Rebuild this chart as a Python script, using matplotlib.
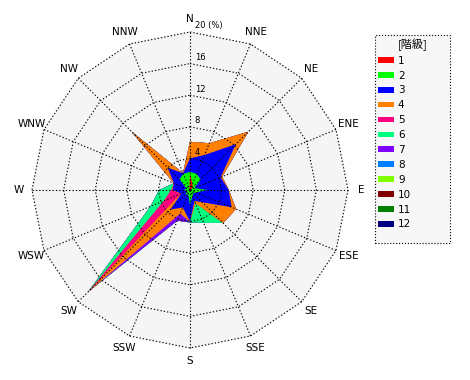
import numpy as np
import matplotlib
matplotlib.use('Agg')
import matplotlib.pyplot as plt
from matplotlib.patches import Patch, Rectangle

plt.rcParams['font.family'] = ['DejaVu Sans', 'Noto Sans CJK JP']

# 16方位
directions = ['N', 'NNE', 'NE', 'ENE', 'E', 'ESE', 'SE', 'SSE',
              'S', 'SSW', 'SW', 'WSW', 'W', 'WNW', 'NW', 'NNW']

# 階級ごとの出現率 (%)
class_labels = ['1', '2', '3', '4', '5', '6', '7', '8', '9', '10', '11', '12']
c1 = [2.1, 0.8, 0.5, 0.1, 0.2, 0.1, 0.1, 0.1, 0.2, 0.1, 0.3, 0.1, 0.2, 0.1, 0.2, 0.2]
c2 = [0.2, 1.4, 1.4, 0.5, 2.0, 0.7, 0.5, 0.7, 1.7, 0.5, 0.5, 0.3, 0.6, 0.4, 1.7, 2.0]
c3 = [1.7, 2.6, 6.3, 3.6, 2.7, 4.9, 1.6, 0.7, 2.1, 1.8, 2.7, 0.8, 1.4, 1.7, 2.1, 0.1]
c4 = [2.1, 1.6, 2.2, 0.2, 0.0, 0.6, 3.7, 0.3, 0.0, 0.8, 14.7, 0.1, 0.1, 0.0, 6.4, 0.0]
c5 = [0, 0, 0, 0, 0, 0, 0, 0, 0, 0, 0, 2.3, 0.1, 0, 0, 0]
c6 = [0, 0, 0, 0, 0, 0, 0, 2.7, 0.1, 0, 0, 1.8, 1.5, 0, 0, 0]
c7 = [0, 0, 0, 0, 0, 0, 0, 0, 0, 1.0, 0, 0, 0, 0, 0, 0]
c8 = [0] * 16
c9 = [0] * 16
c10 = [0] * 16
c11 = [0] * 16
c12 = [0] * 16

colors = ['#ff0000', '#00ff00', '#0000ff', '#ff8000', '#ff0080', '#00ff80',
          '#8000ff', '#0080ff', '#80ff00', '#800000', '#008000', '#000080']

rings = [4, 8, 12, 16, 20]
rmax = 20

data = np.array([c1, c2, c3, c4, c5, c6, c7, c8, c9, c10, c11, c12])
cum = np.cumsum(data, axis=0)

theta = np.deg2rad(np.arange(16) * 22.5)
sx, sy = np.sin(theta), np.cos(theta)

def closed(a):
    return np.append(a, a[0])

W, H = 470, 380
fig = plt.figure(figsize=(W / 100, H / 100), dpi=100)
ax = fig.add_axes([0, 0, 1, 1])
scale = 7.9  # px per %
ax.set_xlim(-190 / scale, (W - 190) / scale)
ax.set_ylim(-(H - 190) / scale, 190 / scale)
ax.axis('off')

# 背景
ax.fill(closed(rmax * sx), closed(rmax * sy), color='#f5f5f5', zorder=0)

# 積み上げ (外側から)
for k in range(11, -1, -1):
    r = cum[k]
    ax.fill(closed(r * sx), closed(r * sy), color=colors[k], lw=0, zorder=1)

# グリッド
dot = (0, (1.2, 1.8))
for rv in rings:
    ax.plot(closed(rv * sx), closed(rv * sy), color='black', lw=0.8,
            linestyle=dot, zorder=3)
for i in range(16):
    ax.plot([0, rmax * sx[i]], [0, rmax * sy[i]], color='black', lw=0.8,
            linestyle=dot, zorder=3)

# 目盛ラベル
for rv in rings:
    txt = '20 (%)' if rv == rmax else str(rv)
    ax.text(0.6, rv + 0.2, txt, fontsize=6, ha='left', va='bottom', zorder=4)

# 方位ラベル
lab_r = 21.7
for i, d in enumerate(directions):
    ax.text(lab_r * sx[i], lab_r * sy[i], d, fontsize=7.5,
            ha='center', va='center')

# 凡例の枠
box = Rectangle((375 / W, 1 - 243 / H), 75 / W, 208 / H,
                transform=fig.transFigure, facecolor='#f7f7f7',
                edgecolor='black', linestyle=':', lw=0.8, zorder=0,
                clip_on=False)
ax.add_patch(box)

handles = [Patch(facecolor=c, edgecolor='none') for c in colors]
leg = ax.legend(handles, class_labels, title='[階級]', loc='upper left',
                bbox_to_anchor=(375 / W, 1 - 35 / H, 75 / W, 0),
                bbox_transform=fig.transFigure, mode='expand',
                fontsize=7.5, title_fontsize=8, frameon=False,
                handlelength=1.5, handleheight=0.45, handletextpad=0.4,
                labelspacing=0.47, borderpad=0.3, borderaxespad=0)
leg.get_title().set_family(['Noto Sans CJK JP'])

plt.savefig('out.png', dpi=100)
